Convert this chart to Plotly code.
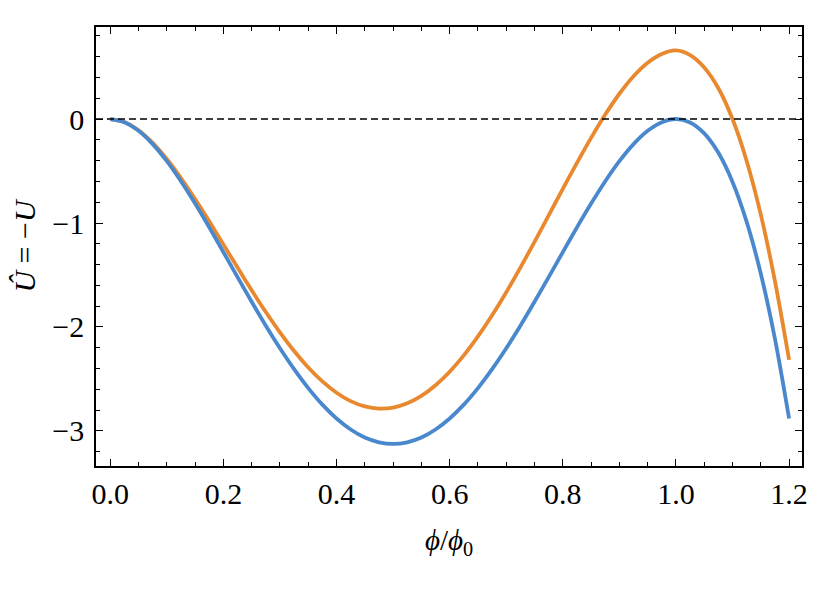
import plotly.graph_objects as go

phi = [0.000, 0.025, 0.050, 0.075, 0.100, 0.125, 0.150, 0.175, 0.200, 0.225, 0.250, 0.275,
       0.300, 0.325, 0.350, 0.375, 0.400, 0.425, 0.450, 0.475, 0.500, 0.525, 0.550, 0.575,
       0.600, 0.625, 0.650, 0.675, 0.700, 0.725, 0.750, 0.775, 0.800, 0.825, 0.850, 0.875,
       0.900, 0.925, 0.950, 0.975, 1.000, 1.025, 1.050, 1.075, 1.100, 1.125, 1.150, 1.175, 1.200]
u_blue = [0.000, -0.030, -0.113, -0.241, -0.405, -0.598, -0.813, -1.042, -1.280, -1.520, -1.758, -1.988,
          -2.205, -2.406, -2.588, -2.747, -2.880, -2.986, -3.063, -3.109, -3.125, -3.109, -3.063, -2.986,
          -2.880, -2.747, -2.588, -2.406, -2.205, -1.988, -1.758, -1.520, -1.280, -1.042, -0.813, -0.598,
          -0.405, -0.241, -0.113, -0.030, 0.000, -0.033, -0.138, -0.325, -0.605, -0.989, -1.488, -2.114, -2.880]
u_orange = [0.000, -0.028, -0.108, -0.229, -0.385, -0.568, -0.770, -0.984, -1.206, -1.429, -1.647, -1.856,
            -2.052, -2.231, -2.389, -2.523, -2.632, -2.713, -2.764, -2.785, -2.775, -2.734, -2.662, -2.560,
            -2.430, -2.273, -2.091, -1.888, -1.666, -1.429, -1.181, -0.927, -0.672, -0.421, -0.181, 0.043,
            0.243, 0.412, 0.542, 0.626, 0.660, 0.615, 0.496, 0.296, 0.000, -0.403, -0.920, -1.560, -2.317]

x_ticks = [0.0, 0.2, 0.4, 0.6, 0.8, 1.0, 1.2]
x_ticklabels = ["0.0", "0.2", "0.4", "0.6", "0.8", "1.0", "1.2"]
y_ticks = [-3, -2, -1, 0]
y_ticklabels = ["\u22123", "\u22122", "\u22121", "0"]

FONT = "Liberation Serif"

fig = go.Figure()
fig.add_trace(go.Scatter(x=phi, y=u_orange, mode="lines",
                         line=dict(color="#E8892F", width=3.8, shape="spline", smoothing=0.8),
                         showlegend=False, hoverinfo="skip"))
fig.add_trace(go.Scatter(x=phi, y=u_blue, mode="lines",
                         line=dict(color="#4A88CE", width=3.8, shape="spline", smoothing=0.8),
                         showlegend=False, hoverinfo="skip"))
fig.add_hline(y=0, line=dict(color="black", width=1.6, dash="7px,4px"))

axis_common = dict(
    showgrid=False, zeroline=False, showline=True, linecolor="black", linewidth=1.5,
    mirror="ticks", ticks="inside", ticklen=7, tickwidth=1.3, tickcolor="black",
    tickfont=dict(family=FONT, size=30, color="black"),
)

fig.update_xaxes(range=[-0.0252, 1.2228], tickvals=x_ticks, ticktext=x_ticklabels,
                 minor=dict(ticks="inside", ticklen=4, tickwidth=1.1, tickcolor="black", dtick=0.05,
                            showgrid=False),
                 ticklabelstandoff=0,
                 title=dict(text="<i>\u03d5</i>/<i>\u03d5</i><sub>0</sub>",
                            font=dict(family=FONT, size=29, color="black"), standoff=21),
                 **axis_common)
fig.update_yaxes(range=[-3.337, 0.885], tickvals=y_ticks, ticktext=y_ticklabels,
                 minor=dict(ticks="inside", ticklen=4, tickwidth=1.1, tickcolor="black", dtick=0.2,
                            showgrid=False),
                 ticklabelstandoff=4,
                 title=dict(text="<i>\u00db</i> = \u2212<i>U</i>",
                            font=dict(family=FONT, size=30, color="black"), standoff=11),
                 **axis_common)

fig.update_layout(
    width=830, height=606,
    margin=dict(l=86, r=36, t=19, b=148),
    paper_bgcolor="white", plot_bgcolor="white",
)

fig.write_html("out.html")
